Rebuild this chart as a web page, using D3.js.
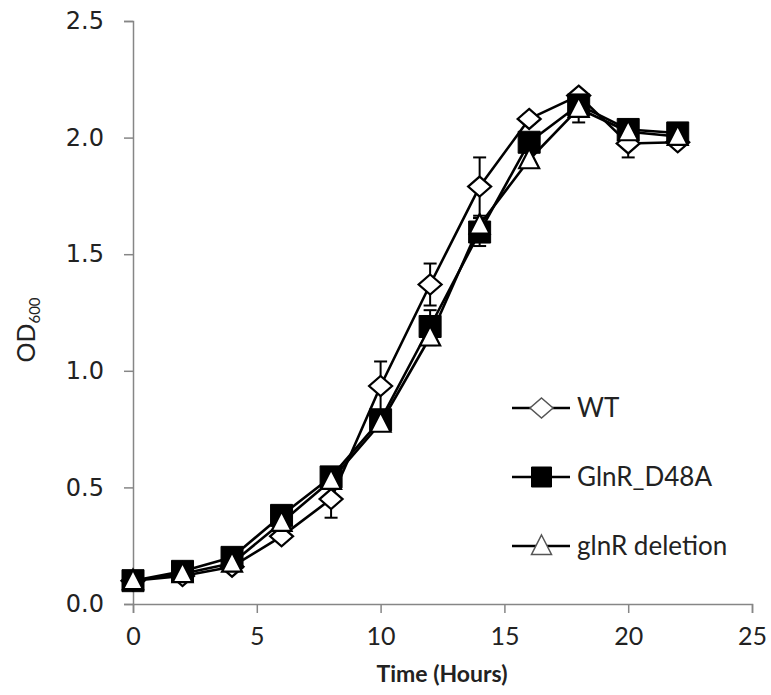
<!DOCTYPE html>
<html>
<head>
<meta charset="utf-8">
<script src="https://cdn.jsdelivr.net/npm/d3@7/dist/d3.min.js"></script>
<style>
  html, body { margin: 0; padding: 0; background: #fff; }
  svg { display: block; }
</style>
</head>
<body>
<svg id="chart" width="771" height="695"></svg>
<script>
// ---- data ----
const hours = [0, 2, 4, 6, 8, 10, 12, 14, 16, 18, 20, 22];
const seriesNames = ["WT", "GlnR_D48A", "glnR deletion"];
const wtValues   = [0.10, 0.12, 0.16, 0.29, 0.45, 0.935, 1.37, 1.79, 2.08, 2.18, 1.975, 1.98];
const wtErr      = [0.01, 0.01, 0.01, 0.02, 0.08, 0.105, 0.09, 0.125, 0.02, 0.02, 0.06, 0.02];
const d48aValues = [0.10, 0.14, 0.20, 0.38, 0.545, 0.79, 1.19, 1.595, 1.98, 2.14, 2.035, 2.02];
const d48aErr    = [0.01, 0.01, 0.01, 0.02, 0.02, 0.03, 0.07, 0.06, 0.03, 0.03, 0.02, 0.02];
const delValues  = [0.10, 0.13, 0.175, 0.35, 0.53, 0.775, 1.145, 1.625, 1.905, 2.125, 2.025, 2.005];
const delErr     = [0.01, 0.01, 0.01, 0.02, 0.02, 0.03, 0.035, 0.03, 0.03, 0.06, 0.02, 0.02];
const xTicks = [0, 5, 10, 15, 20, 25];
const yTicks = [0, 0.5, 1.0, 1.5, 2.0, 2.5];

const series = [
  { name: seriesNames[0], values: wtValues,   err: wtErr,   shape: "diamond" },
  { name: seriesNames[1], values: d48aValues, err: d48aErr, shape: "square" },
  { name: seriesNames[2], values: delValues,  err: delErr,  shape: "triangle" }
];

// ---- layout ----
const svg = d3.select("#chart");
const x = d3.scaleLinear().domain([0, 25]).range([133, 752]);
const y = d3.scaleLinear().domain([0, 2.5]).range([604, 21]);
const axisColor = "#868686";
const sansNarrow = "Lato, 'Open Sans', sans-serif";

function shapePath(shape, cx, cy, legend) {
  if (shape === "diamond") {
    const w = 11.5, h = 10;
    return `M${cx},${cy - h}L${cx + w},${cy}L${cx},${cy + h}L${cx - w},${cy}Z`;
  }
  if (shape === "square") {
    const s = legend ? 10 : 11;
    return `M${cx - s},${cy - s}H${cx + s}V${cy + s}H${cx - s}Z`;
  }
  const hw = 10, top = 11, bot = 8.5;
  return `M${cx},${cy - top}L${cx + hw},${cy + bot}L${cx - hw},${cy + bot}Z`;
}
function shapeStyle(sel, shape, legend) {
  if (shape === "square") {
    sel.attr("fill", "#000").attr("stroke", "#000").attr("stroke-width", 1);
  } else {
    sel.attr("fill", "#fff")
       .attr("stroke", legend ? "#555" : "#000")
       .attr("stroke-width", legend ? 1.5 : 2.2);
  }
}

// ---- axes ----
const yAxis = d3.axisLeft(y).tickValues(yTicks).tickSize(9).tickFormat(d3.format(".1f")).tickPadding(20);
const gy = svg.append("g").attr("transform", `translate(${x(0)},0)`).call(yAxis);
gy.select(".domain").attr("stroke", axisColor).attr("stroke-width", 1.5);
gy.selectAll(".tick line").attr("stroke", axisColor).attr("stroke-width", 1.5);
gy.selectAll(".tick text").attr("fill", "#222").style("font-family", "'DejaVu Sans', Verdana, sans-serif").style("font-size", "24px");

const xAxis = d3.axisBottom(x).tickValues(xTicks).tickSize(9).tickFormat(d3.format("d")).tickPadding(14);
const gx = svg.append("g").attr("transform", `translate(0,${y(0)})`).call(xAxis);
gx.select(".domain").attr("stroke", axisColor).attr("stroke-width", 1.5);
gx.selectAll(".tick line").attr("stroke", axisColor).attr("stroke-width", 1.5);
gx.selectAll(".tick text").attr("fill", "#222").style("font-family", sansNarrow).style("font-size", "25px");

// axis titles
svg.append("text")
  .attr("x", 442).attr("y", 682)
  .attr("text-anchor", "middle")
  .style("font-family", sansNarrow).style("font-size", "23px").style("font-weight", "bold")
  .attr("fill", "#222")
  .text("Time (Hours)");

const yt = svg.append("text")
  .attr("transform", "translate(35,330) rotate(-90)")
  .attr("text-anchor", "middle")
  .style("font-family", sansNarrow).style("font-size", "25px")
  .attr("fill", "#222");
yt.append("tspan").text("OD");
yt.append("tspan").attr("dy", 5).style("font-size", "15px").text("600");

// ---- lines ----
const line = d3.line().x((d, i) => x(hours[i])).y(d => y(d));
svg.append("g").selectAll("path").data(series).join("path")
  .attr("d", s => line(s.values))
  .attr("fill", "none").attr("stroke", "#000").attr("stroke-width", 2.6)
  .attr("stroke-linejoin", "round");

// ---- error bars ----
const eg = svg.append("g").attr("stroke", "#000").attr("stroke-width", 2);
series.forEach(s => {
  s.values.forEach((v, i) => {
    const cx = x(hours[i]);
    const y1 = y(v + s.err[i]), y2 = y(v - s.err[i]);
    eg.append("line").attr("x1", cx).attr("x2", cx).attr("y1", y1).attr("y2", y2);
    eg.append("line").attr("x1", cx - 6.5).attr("x2", cx + 6.5).attr("y1", y1).attr("y2", y1);
    eg.append("line").attr("x1", cx - 6.5).attr("x2", cx + 6.5).attr("y1", y2).attr("y2", y2);
  });
});

// ---- markers ----
series.forEach(s => {
  svg.append("g").selectAll("path").data(s.values).join("path")
    .attr("d", (v, i) => shapePath(s.shape, x(hours[i]), y(v), false))
    .call(sel => shapeStyle(sel, s.shape, false));
});

// ---- legend ----
const legendY = [408, 477, 546];
const lg = svg.append("g");
series.forEach((s, k) => {
  const ly = legendY[k];
  lg.append("line").attr("x1", 512).attr("x2", 570).attr("y1", ly).attr("y2", ly)
    .attr("stroke", "#000").attr("stroke-width", 2.6);
  lg.append("path").attr("d", shapePath(s.shape, 541.5, ly, true)).call(sel => shapeStyle(sel, s.shape, true));
  lg.append("text").attr("x", 577).attr("y", ly + 9)
    .style("font-family", sansNarrow).style("font-size", "26px").attr("fill", "#222")
    .text(s.name);
});
</script>
</body>
</html>
